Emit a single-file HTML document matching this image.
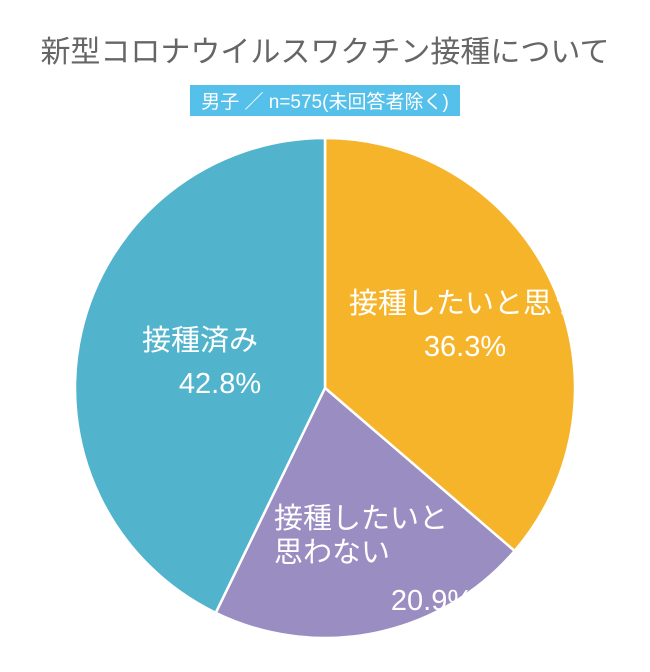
<!DOCTYPE html>
<html><head><meta charset="utf-8"><style>
body{margin:0;background:#fff;width:650px;height:667px;overflow:hidden;font-family:"Liberation Sans","Noto Sans CJK JP",sans-serif}
svg text{font-family:"Liberation Sans","Noto Sans CJK JP",sans-serif}
</style></head><body>
<svg width="650" height="667">
<text x="325" y="62" text-anchor="middle" font-size="30" fill="#666">新型コロナウイルスワクチン接種について</text>
<rect x="190" y="85" width="270" height="31" fill="#55C0EA"/>
<text x="325" y="108" text-anchor="middle" font-size="19" fill="#fff">男子 ／ n=575(未回答者除く)</text>
<g id="slices"></g>
<g id="labels" font-size="29" fill="#fff" text-anchor="middle" stroke="#fff" stroke-width="0"></g>
</svg>
<script>
const categories=["接種したいと思う","接種したいと思わない","接種済み"];
const values=[36.3,20.9,42.8];
const colors=["#F6B42A","#9A8DC2","#52B4CC"];
const cx=325,cy=388,r=250;
const ns="http://www.w3.org/2000/svg";
const g=document.getElementById("slices");
const total=values.reduce((a,b)=>a+b,0);
function pt(a,rr){return [cx+rr*Math.sin(a),cy-rr*Math.cos(a)];}
let a0=0;
values.forEach((v,i)=>{
 const a1=a0+v/total*2*Math.PI;
 const p0=pt(a0,r),p1=pt(a1,r);
 const p=document.createElementNS(ns,"path");
 p.setAttribute("d",`M${cx},${cy}L${p0[0]},${p0[1]}A${r},${r} 0 ${a1-a0>Math.PI?1:0} 1 ${p1[0]},${p1[1]}Z`);
 p.setAttribute("fill",colors[i]);p.setAttribute("stroke","#fff");p.setAttribute("stroke-width","2.5");
 
 
 g.appendChild(p);
 a0=a1;
});
const lg=document.getElementById("labels");
function txt(s,x,y,anchor,name){
 const t=document.createElementNS(ns,"text");
 t.setAttribute("x",x);t.setAttribute("y",y);
 if(anchor)t.setAttribute("text-anchor",anchor);
 t.textContent=s;
 
 
 lg.appendChild(t);
}
txt(categories[0],465,313,null,'label-want');
txt(values[0].toFixed(1)+"%",465,356,null,'value-want');
txt("接種したいと",274,528,"start",'label-dont-want-1');
txt("思わない",274,562,"start",'label-dont-want-2');
txt(values[1].toFixed(1)+"%",432,610,null,'value-dont-want');
txt(categories[2],200,350,null,'label-done');
txt(values[2].toFixed(1)+"%",220,393,null,'value-done');
</script>
</body></html>
